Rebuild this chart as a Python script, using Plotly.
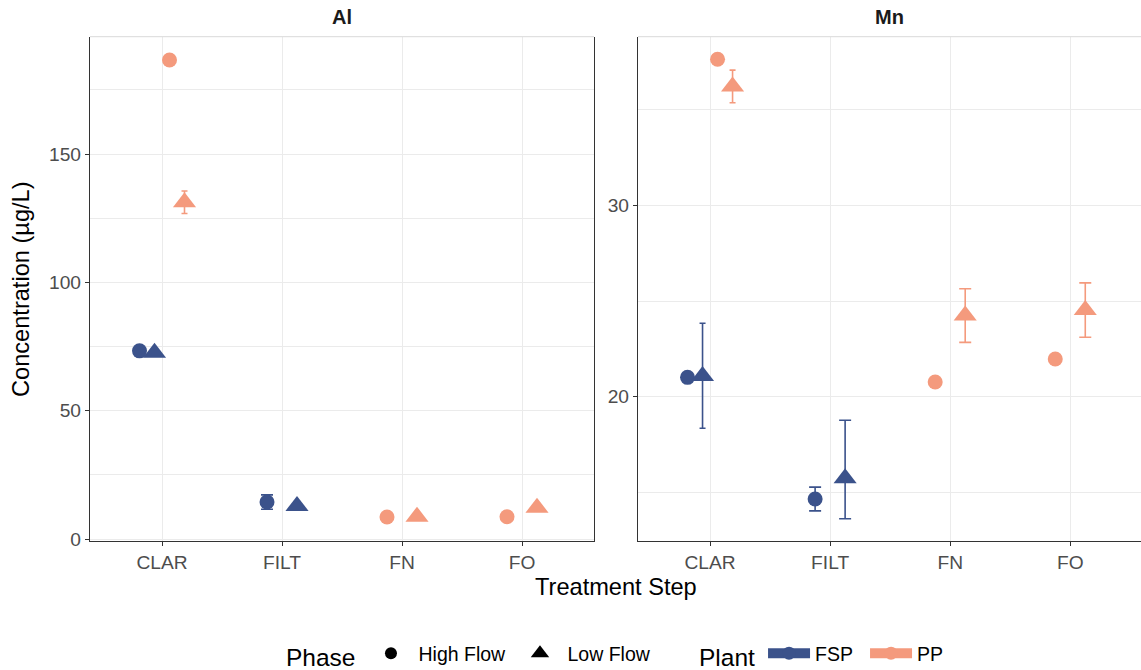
import plotly.graph_objects as go

# ---- data (µg/L) -------------------------------------------------------
steps = ["CLAR", "FILT", "FN", "FO"]
elements = ["Al", "Mn"]
plants = ["FSP", "PP"]
phases = ["High Flow", "Low Flow"]

# Aluminium
al_fsp_high = [73.3, 14.4, None, None]
al_fsp_high_up = [None, 2.8, None, None]
al_fsp_high_dn = [None, 2.8, None, None]
al_fsp_low = [72.6, 12.9, None, None]
al_fsp_low_up = [None, None, None, None]
al_fsp_low_dn = [None, None, None, None]
al_pp_high = [186.6, None, 8.6, 8.7]
al_pp_high_up = [None, None, None, None]
al_pp_high_dn = [None, None, None, None]
al_pp_low = [131.2, None, 8.7, 12.2]
al_pp_low_up = [4.4, None, None, None]
al_pp_low_dn = [4.4, None, None, None]

# Manganese
mn_fsp_high = [21.01, 14.65, None, None]
mn_fsp_high_up = [None, 0.62, None, None]
mn_fsp_high_dn = [None, 0.62, None, None]
mn_fsp_low = [21.08, 15.73, None, None]
mn_fsp_low_up = [2.76, 3.04, None, None]
mn_fsp_low_dn = [2.73, 2.11, None, None]
mn_pp_high = [37.64, None, 20.77, 21.97]
mn_pp_high_up = [None, None, None, None]
mn_pp_high_dn = [None, None, None, None]
mn_pp_low = [36.22, None, 24.24, 24.53]
mn_pp_low_up = [0.85, None, 1.40, 1.42]
mn_pp_low_dn = [0.85, None, 1.40, 1.42]

series = {
    ("Al", "FSP", "High Flow"): (al_fsp_high, al_fsp_high_up, al_fsp_high_dn),
    ("Al", "FSP", "Low Flow"): (al_fsp_low, al_fsp_low_up, al_fsp_low_dn),
    ("Al", "PP", "High Flow"): (al_pp_high, al_pp_high_up, al_pp_high_dn),
    ("Al", "PP", "Low Flow"): (al_pp_low, al_pp_low_up, al_pp_low_dn),
    ("Mn", "FSP", "High Flow"): (mn_fsp_high, mn_fsp_high_up, mn_fsp_high_dn),
    ("Mn", "FSP", "Low Flow"): (mn_fsp_low, mn_fsp_low_up, mn_fsp_low_dn),
    ("Mn", "PP", "High Flow"): (mn_pp_high, mn_pp_high_up, mn_pp_high_dn),
    ("Mn", "PP", "Low Flow"): (mn_pp_low, mn_pp_low_up, mn_pp_low_dn),
}

# ---- styling -----------------------------------------------------------
W, H = 1141, 670
FONT = "Liberation Sans, Arial, sans-serif"
plant_colors = {"FSP": "#3B528B", "PP": "#F49A7D"}
phase_symbols = {"High Flow": "circle", "Low Flow": "triangle-up"}
phase_sizes = {"High Flow": 15, "Low Flow": 20}
GRID = "#EBEBEB"
AXIS = "#333333"
TICK = "#4D4D4D"

DODGE = 0.5        # total dodge width per category
ERR_WIDTH = 0.2    # error-bar cap width (data units) before dodging

panel_px = {"Al": (90, 594), "Mn": (638, 1141)}
x_ranges = {"Al": [-0.6, 3.6], "Mn": [-0.6, 3.6 - 1.3 / 120]}
y_ranges = {"Al": [-0.66, 195.7], "Mn": [12.47, 38.82]}
y_dtick = {"Al": 50, "Mn": 10}
y_tick0 = {"Al": 0, "Mn": 0}
y_dom = [1 - 540.7 / H, 1 - 36.7 / H]

fig = go.Figure()

for k, el in enumerate(elements):
    xa = "x" if k == 0 else "x2"
    ya = "y" if k == 0 else "y2"
    x0, x1 = panel_px[el]
    r0, r1 = x_ranges[el]
    px_per_unit = (x1 - x0) / (r1 - r0)

    # groups present at each step, in dodge order
    order = [(p, ph) for p in plants for ph in phases]
    for p in plants:
        for ph in phases:
            vals, up, dn = series[(el, p, ph)]
            xs, ys = [], []
            for i, v in enumerate(vals):
                if v is None:
                    continue
                present = [g for g in order if series[(el,) + g][0][i] is not None]
                n = len(present)
                j = present.index((p, ph))
                off = (j + 0.5) / n * DODGE - DODGE / 2
                xs.append(i + off)
                ys.append(v)
                if up[i] is not None:
                    cap = ERR_WIDTH / n / 2 * px_per_unit
                    fig.add_trace(go.Scatter(
                        x=[i + off], y=[v], xaxis=xa, yaxis=ya,
                        mode="markers", marker=dict(size=1, opacity=0),
                        error_y=dict(type="data", symmetric=False,
                                     array=[up[i]], arrayminus=[dn[i]],
                                     color=plant_colors[p], thickness=1.6,
                                     width=cap),
                        showlegend=False, hoverinfo="skip"))
            fig.add_trace(go.Scatter(
                x=xs, y=ys, xaxis=xa, yaxis=ya, mode="markers",
                marker=dict(symbol=phase_symbols[ph], size=phase_sizes[ph],
                            color=plant_colors[p], line=dict(width=0)),
                name=f"{p} – {ph}", showlegend=False))

# legend entries
for ph in phases:
    fig.add_trace(go.Scatter(
        x=[None], y=[None], mode="markers", name=ph, legend="legend",
        marker=dict(symbol=phase_symbols[ph], color="black",
                    size=12 if ph == "High Flow" else 16)))
for p in plants:
    fig.add_trace(go.Scatter(
        x=[None], y=[None], mode="lines+markers", name=p, legend="legend2",
        line=dict(color=plant_colors[p], width=12),
        marker=dict(symbol="circle", size=13, color=plant_colors[p])))

axis_common = dict(showgrid=True, gridcolor=GRID, gridwidth=1.4,
                   showline=True, linecolor=AXIS, linewidth=1.3,
                   ticks="outside", ticklen=4, tickcolor=AXIS, tickwidth=1.1,
                   tickfont=dict(family=FONT, size=19.2, color=TICK),
                   zeroline=False)

layout = dict(
    width=W, height=H,
    margin=dict(l=0, r=0, t=0, b=0, autoexpand=False),
    paper_bgcolor="white", plot_bgcolor="white",
    font=dict(family=FONT, color="black"),
    showlegend=True,
)
for k, el in enumerate(elements):
    sfx = "" if k == 0 else "2"
    x0, x1 = panel_px[el]
    layout["xaxis" + sfx] = dict(
        axis_common, domain=[x0 / W, min(x1 / W, 1.0)], range=x_ranges[el],
        tickmode="array", tickvals=list(range(len(steps))), ticktext=steps,
        anchor="y" + sfx)
    layout["yaxis" + sfx] = dict(
        axis_common, domain=y_dom, range=y_ranges[el],
        tick0=y_tick0[el], dtick=y_dtick[el], anchor="x" + sfx,
        mirror=(k == 0),
        minor=dict(showgrid=True, gridcolor=GRID, gridwidth=1.2,
                   dtick=y_dtick[el] / 2, tick0=y_tick0[el], ticks=""))

layout["legend"] = dict(
    orientation="h", x=284 / W, xanchor="left", y=1 - 655 / H, yanchor="middle",
    title=dict(text="Phase", side="left", font=dict(family=FONT, size=24.5)),
    font=dict(family=FONT, size=19.5, color="black"),
    itemwidth=45, entrywidth=89, entrywidthmode="pixels",
    bgcolor="rgba(0,0,0,0)")
layout["legend2"] = dict(
    orientation="h", x=697 / W, xanchor="left", y=1 - 655 / H, yanchor="middle",
    title=dict(text="Plant", side="left", font=dict(family=FONT, size=24.5)),
    font=dict(family=FONT, size=19.5, color="black"),
    itemwidth=42, entrywidth=45, entrywidthmode="pixels",
    bgcolor="rgba(0,0,0,0)")

fig.update_layout(**layout)

# light top border of each panel
for k in range(2):
    sfx = "" if k == 0 else "2"
    fig.add_shape(type="line", xref=f"x{sfx} domain", yref=f"y{sfx} domain",
                  x0=0, x1=1, y0=1, y1=1, line=dict(color="#D9D9D9", width=1))

# facet strip labels and shared axis titles
for k, el in enumerate(elements):
    x0, x1 = panel_px[el]
    fig.add_annotation(text=f"<b>{el}</b>", x=(x0 + x1) / 2 / W, y=1 - 17 / H,
                       xref="paper", yref="paper", showarrow=False,
                       xanchor="center", yanchor="middle",
                       font=dict(family=FONT, size=20, color="#1A1A1A"))
fig.add_annotation(text="Treatment Step", x=(90 + 1141) / 2 / W, y=1 - 587 / H,
                   xref="paper", yref="paper", showarrow=False,
                   xanchor="center", yanchor="middle",
                   font=dict(family=FONT, size=23.6, color="black"))
fig.add_annotation(text="Concentration (µg/L)", x=21 / W, y=1 - 289 / H,
                   xref="paper", yref="paper", showarrow=False, textangle=-90,
                   xanchor="center", yanchor="middle",
                   font=dict(family=FONT, size=23.6, color="black"))

fig.write_html("out.html")
